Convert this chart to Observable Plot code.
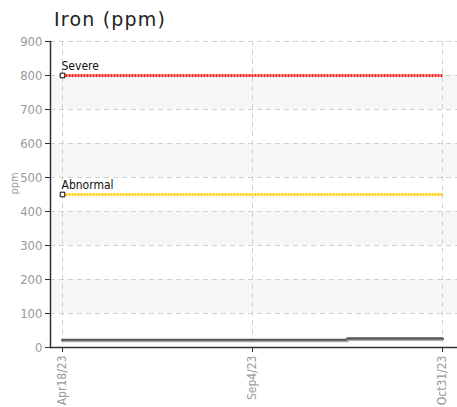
<!DOCTYPE html>
<html>
<head>
<meta charset="utf-8">
<script src="https://cdn.jsdelivr.net/npm/d3@7"></script>
<script src="https://cdn.jsdelivr.net/npm/@observablehq/plot@0.6"></script>
<style>
  html, body { margin: 0; padding: 0; background: #fff; }
  #title { font-family: "DejaVu Sans", Verdana, sans-serif; font-size: 19px; letter-spacing: 1.2px; color: #222; height: 34px; line-height: 30px; padding-left: 54px; box-sizing: border-box; padding-top: 4px; }
  svg text { font-family: "DejaVu Sans Condensed", "DejaVu Sans", sans-serif; font-stretch: condensed; }
</style>
</head>
<body>
<div id="title">Iron (ppm)</div>
<div id="chart"></div>
<script>
const dates = ["Apr18/23", "Sep4/23", "Oct31/23"];
const seriesDark = [21, 21, 26];
const seriesLight = [18, 18, 21];
const severeValue = 800;
const abnormalValue = 450;
const yTicks = [0, 100, 200, 300, 400, 500, 600, 700, 800, 900];
const bands = [[700, 800], [500, 600], [300, 400], [100, 200]];

const darkData = dates.map((d, i) => ({date: d, value: seriesDark[i]}));
const lightData = dates.map((d, i) => ({date: d, value: seriesLight[i]}));
const severeData = dates.map(d => ({date: d, value: severeValue}));
const abnormalData = dates.map(d => ({date: d, value: abnormalValue}));
const limits = [
  {date: dates[0], value: severeValue, label: "Severe"},
  {date: dates[0], value: abnormalValue, label: "Abnormal"}
];

const chart = Plot.plot({
  width: 457,
  height: 373,
  marginTop: 7,
  marginBottom: 60,
  marginLeft: 50,
  marginRight: 0,
  x: {type: "point", domain: dates, range: [61, 442], padding: 0, label: null},
  y: {domain: [0, 900], ticks: yTicks, label: null},
  marks: [
    Plot.rect(bands, {y1: d => d[0], y2: d => d[1], fill: "#f7f7f7"}),
    Plot.gridY(yTicks, {stroke: "#d0d0d0", strokeOpacity: 1, strokeDasharray: "5,4"}),
    Plot.gridX(dates, {stroke: "#d0d0d0", strokeOpacity: 1, strokeDasharray: "5,4"}),
    Plot.lineY(severeData, {x: "date", y: "value", stroke: "#ff1a1a", strokeWidth: 3, strokeDasharray: "2,1", strokeLinecap: "butt"}),
    Plot.lineY(abnormalData, {x: "date", y: "value", stroke: "#ffcc00", strokeWidth: 3, strokeDasharray: "2,1", strokeLinecap: "butt"}),
    Plot.lineY(darkData, {x: "date", y: "value", stroke: "#555", strokeWidth: 3, curve: "step"}),
    Plot.lineY(lightData, {x: "date", y: "value", stroke: "#aaa", strokeWidth: 1.5, curve: "step"}),
    Plot.dot(limits, {x: "date", y: "value", symbol: "square", r: 2.6, fill: "#fff", stroke: "#000", strokeWidth: 1}),
    Plot.text(limits, {x: "date", y: "value", text: "label", textAnchor: "start", dx: -1, dy: -9, fontSize: 12, fill: "#111"}),
    Plot.frame({anchor: "left", stroke: "#333", strokeWidth: 1.5}),
    Plot.ruleY([0], {stroke: "#333", strokeWidth: 1.5}),
    Plot.axisY(yTicks, {tickSize: 5, stroke: "#333", fill: "#999", fontSize: 13, tickPadding: 3, label: null}),
    Plot.axisX(dates, {tickSize: 5, stroke: "#333", fill: "#999", fontSize: 12, tickRotate: -90, tickPadding: 3, label: null}),
    Plot.text(["ppm"], {frameAnchor: "left", rotate: -90, dx: -36, fontSize: 11, fill: "#999"})
  ]
});
document.getElementById("chart").appendChild(chart);
</script>
</body>
</html>
